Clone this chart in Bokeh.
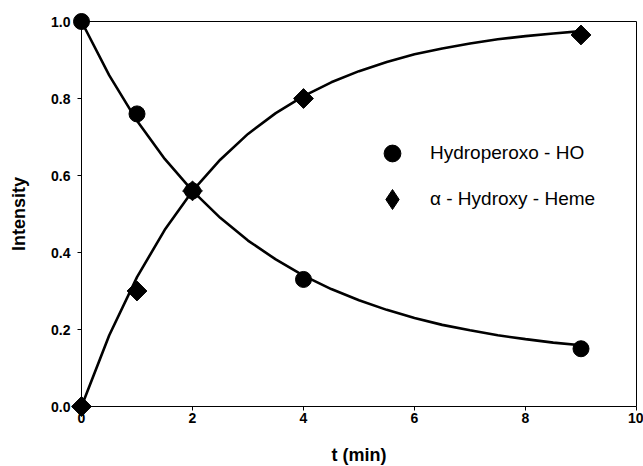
import math
from bokeh.plotting import figure
from bokeh.models import Legend, LegendItem, FixedTicker, Range1d, LinearAxis
from bokeh.embed import file_html
from bokeh.resources import INLINE

# measured points
t_points = [0, 1, 2, 4, 9]
hydroperoxo = [1.00, 0.76, 0.56, 0.33, 0.15]
hydroxy_heme = [0.00, 0.30, 0.56, 0.80, 0.965]

# fitted curves
t_curve = [0, 0.5, 1, 1.5, 2, 2.5, 3, 3.5, 4, 4.5, 5, 5.5, 6, 6.5, 7, 7.5, 8, 8.5, 9]
hydroperoxo_fit = [1.000, 0.860, 0.742, 0.643, 0.560, 0.490, 0.431, 0.382, 0.340, 0.305,
                   0.276, 0.251, 0.230, 0.212, 0.198, 0.185, 0.175, 0.166, 0.159]
hydroxy_fit = [0.000, 0.185, 0.336, 0.459, 0.560, 0.641, 0.708, 0.762, 0.806, 0.842,
               0.871, 0.895, 0.915, 0.930, 0.943, 0.954, 0.962, 0.969, 0.975]

x_ticks = [0, 2, 4, 6, 8, 10]
y_ticks = [0.0, 0.2, 0.4, 0.6, 0.8, 1.0]
y_tick_labels = {0.0: "0.0", 0.2: "0.2", 0.4: "0.4", 0.6: "0.6", 0.8: "0.8", 1.0: "1.0"}
x_lo, x_hi = 0, 10
y_lo, y_hi = 0.0, 1.0

FONT = "Liberation Sans"
W, H = 643, 466
# axes box in pixels: left, right, top, bottom (frame covers the whole canvas so that
# edge markers are not clipped; axes are drawn at fixed data locations)
BL, BR, BT, BB = 81, 636, 21, 406
PX_X = (BR - BL) / (x_hi - x_lo)
PX_Y = (BB - BT) / (y_hi - y_lo)

p = figure(width=W, height=H, output_backend="svg", toolbar_location=None,
           x_range=Range1d(x_lo - BL / PX_X, x_hi + (W - BR) / PX_X),
           y_range=Range1d(y_lo - (H - BB) / PX_Y, y_hi + BT / PX_Y))
p.min_border_left = 0
p.min_border_top = 0
p.min_border_right = 0
p.min_border_bottom = 0
p.xgrid.visible = False
p.ygrid.visible = False
p.outline_line_color = None
p.background_fill_color = "white"
p.border_fill_color = "white"

p.line(t_curve, hydroperoxo_fit, line_color="black", line_width=2.6)
p.line(t_curve, hydroxy_fit, line_color="black", line_width=2.6)
c1 = p.scatter(t_points, hydroperoxo, marker="circle", size=16,
               fill_color="black", line_color="black")
c2 = p.scatter(t_points, hydroxy_heme, marker="square", size=14, angle=math.pi / 4,
               fill_color="black", line_color="black")
# legend-only glyph (legend markers are always drawn unrotated); size 0 on the plot
c2_leg = p.scatter(t_points, hydroxy_heme, marker="diamond", size=0,
                   fill_color="black", line_color="black")

for ax in (p.xaxis[0], p.yaxis[0]):
    ax.axis_line_color = "black"
    ax.major_tick_line_color = "black"
    ax.minor_tick_line_color = None
    ax.major_tick_in = 0
    ax.major_tick_out = 4
    ax.major_label_text_font = FONT
    ax.major_label_text_font_style = "bold"
    ax.major_label_text_font_size = "14px"
    ax.major_label_text_color = "black"
    ax.axis_label_text_font = FONT
    ax.axis_label_text_font_style = "bold"
    ax.axis_label_text_font_size = "18px"
    ax.axis_label_text_color = "black"

p.xaxis.ticker = FixedTicker(ticks=x_ticks)
p.yaxis.ticker = FixedTicker(ticks=y_ticks)
p.yaxis.major_label_overrides = y_tick_labels
p.xaxis.bounds = (x_lo, x_hi)
p.yaxis.bounds = (y_lo, y_hi)
p.xaxis.fixed_location = y_lo
p.yaxis.fixed_location = x_lo
p.xaxis.axis_label = "t (min)"
p.yaxis.axis_label = "Intensity"
p.xaxis.major_label_standoff = 2
p.yaxis.major_label_standoff = 7
p.xaxis.axis_label_standoff = 19
p.yaxis.axis_label_standoff = 19

# top and right edges of the box
top_ax = LinearAxis(fixed_location=y_hi, bounds=(x_lo, x_hi), ticker=FixedTicker(ticks=[]),
                    major_tick_line_color=None, minor_tick_line_color=None,
                    major_label_text_font_size="0px", axis_line_color="black")
right_ax = LinearAxis(fixed_location=x_hi, bounds=(y_lo, y_hi), ticker=FixedTicker(ticks=[]),
                      major_tick_line_color=None, minor_tick_line_color=None,
                      major_label_text_font_size="0px", axis_line_color="black")
p.add_layout(top_ax, "above")
p.add_layout(right_ax, "right")

def style_legend(lg, glyph, standoff):
    lg.border_line_color = None
    lg.background_fill_alpha = 0
    lg.padding = 0
    lg.margin = 0
    lg.spacing = 0
    lg.glyph_width = glyph
    lg.glyph_height = glyph
    lg.label_standoff = standoff
    lg.label_text_font = FONT
    lg.label_text_font_size = "19px"
    lg.label_text_color = "black"

leg1 = Legend(items=[LegendItem(label="Hydroperoxo - HO", renderers=[c1])], location=(371, 292))
style_legend(leg1, 42, 17)
leg2 = Legend(items=[LegendItem(label="\u03b1 - Hydroxy - Heme", renderers=[c2_leg])], location=(367, 242))
style_legend(leg2, 50, 13)
p.add_layout(leg1)
p.add_layout(leg2)

open("out.html", "w").write(file_html(p, INLINE))
